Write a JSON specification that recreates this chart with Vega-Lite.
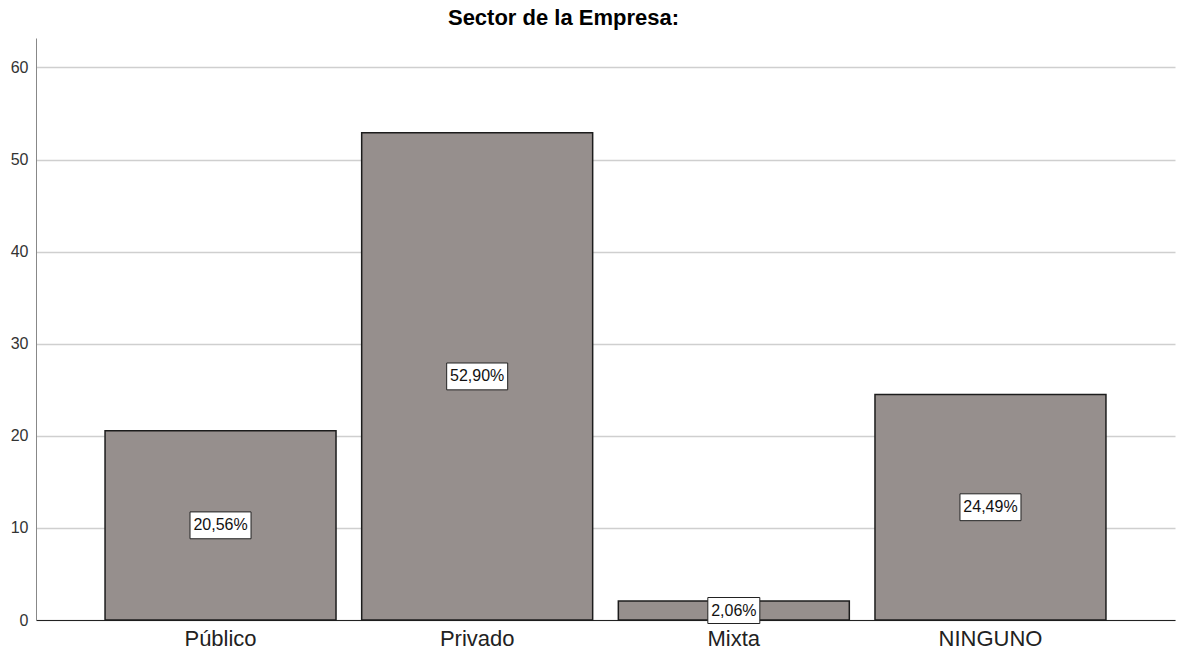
{
  "$schema": "https://vega.github.io/schema/vega-lite/v6.json",
  "autosize": "none",
  "width": 1139,
  "height": 582,
  "padding": {"left": 36, "top": 38, "right": 3, "bottom": 35},
  "background": "white",
  "config": {
    "view": {"stroke": null},
    "font": "Liberation Sans"
  },
  "title": {
    "text": "Sector de la Empresa:",
    "fontSize": 22,
    "fontWeight": "bold",
    "font": "Liberation Sans",
    "color": "#000000",
    "anchor": "middle",
    "dx": -42,
    "offset": 8
  },
  "data": {
    "values": [
      {"sector": "Público", "pct": 20.56, "label": "20,56%"},
      {"sector": "Privado", "pct": 52.90, "label": "52,90%"},
      {"sector": "Mixta", "pct": 2.06, "label": "2,06%"},
      {"sector": "NINGUNO", "pct": 24.49, "label": "24,49%"}
    ]
  },
  "encoding": {
    "x": {
      "field": "sector",
      "type": "nominal",
      "sort": null,
      "scale": {"paddingInner": 0.1, "paddingOuter": 0.269},
      "axis": {
        "title": null,
        "labelAngle": 0,
        "labelFontSize": 22,
        "labelColor": "#222222",
        "labelPadding": 8,
        "ticks": false,
        "domainColor": "#222222",
        "domainWidth": 1,
        "grid": false
      }
    }
  },
  "layer": [
    {
      "mark": {"type": "bar", "fill": "#968f8d", "stroke": "#1c1c1c", "strokeWidth": 1.5},
      "encoding": {
        "y": {
          "field": "pct",
          "type": "quantitative",
          "scale": {"domain": [0, 63.2], "nice": false},
          "axis": {
            "title": null,
            "values": [0, 10, 20, 30, 40, 50, 60],
            "labelFontSize": 16,
            "labelColor": "#333333",
            "labelPadding": 8,
            "ticks": false,
            "domainColor": "#888888",
            "gridColor": "#cfcfcf",
            "gridWidth": 1.3,
            "zindex": 0
          }
        }
      }
    },
    {
      "mark": {"type": "point", "filled": true, "fill": "white", "stroke": "#222222", "strokeWidth": 1, "opacity": 1},
      "encoding": {
        "y": {"field": "pct", "type": "quantitative", "scale": {"domain": [0, 126.4], "nice": false}, "axis": null},
        "shape": {"condition": {"test": "datum.sector === 'Mixta'", "value": "M-1,-0.5H1V0.5H-1Z"}, "value": "M-1,-0.44H1V0.44H-1Z"},
        "size": {"condition": {"test": "datum.sector === 'Mixta'", "value": 2704}, "value": 3721}
      }
    },
    {
      "mark": {"type": "text", "fontSize": 16, "color": "#111111", "baseline": "middle", "align": "center"},
      "encoding": {
        "y": {"field": "pct", "type": "quantitative", "scale": {"domain": [0, 126.4], "nice": false}, "axis": null},
        "text": {"field": "label"}
      }
    }
  ],
  "resolve": {"scale": {"y": "independent"}}
}
